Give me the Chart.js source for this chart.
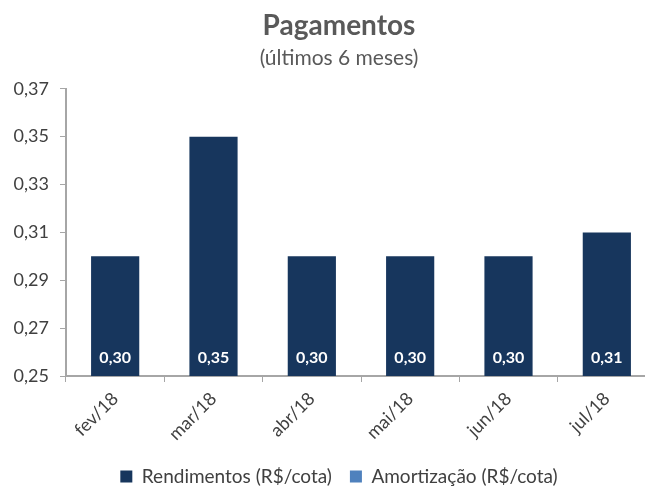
<!DOCTYPE html>
<html>
  <head>
    <meta charset="UTF-8" />
    <title>Pagamentos</title>
    <script src="https://cdn.jsdelivr.net/npm/chart.js"></script>
    <style>
      html, body {
        margin: 0;
        padding: 0;
        overflow: hidden;
        background: #fff;
        font-family: Lato, sans-serif;
      }
      #wrap {
        width: 680px;
        height: 486px;
      }
    </style>
  </head>
  <body>
    <div id="wrap"><canvas id="myChart"></canvas></div>
    <script>
      const months = ['fev/18', 'mar/18', 'abr/18', 'mai/18', 'jun/18', 'jul/18'];
      const rendimentos = [0.30, 0.35, 0.30, 0.30, 0.30, 0.31];
      const amortizacao = [null, null, null, null, null, null];
      const yTicks = { min: 0.25, max: 0.37, step: 0.02 };

      const fmt = v => v.toFixed(2).replace('.', ',');

      // white value labels sitting near the bottom of each bar
      const barLabels = {
        id: 'barLabels',
        afterDatasetsDraw(chart) {
          const ctx = chart.ctx;
          const meta = chart.getDatasetMeta(0);
          const bottom = chart.scales.y.bottom;
          ctx.save();
          ctx.fillStyle = '#ffffff';
          ctx.font = 'bold 16px Lato, sans-serif';
          ctx.textAlign = 'center';
          ctx.textBaseline = 'middle';
          meta.data.forEach((bar, i) => {
            ctx.fillText(fmt(rendimentos[i]), bar.x, bottom - 18);
          });
          ctx.restore();
        }
      };

      const ctx = document.getElementById('myChart').getContext('2d');
      new Chart(ctx, {
        type: 'bar',
        data: {
          labels: months,
          datasets: [
            {
              label: 'Rendimentos (R$/cota)',
              data: rendimentos,
              backgroundColor: '#17365d',
              barPercentage: 0.49,
              categoryPercentage: 1
            },
            {
              label: 'Amortização (R$/cota)',
              data: amortizacao,
              backgroundColor: '#4f81bd',
              barPercentage: 0.49,
              categoryPercentage: 1
            }
          ]
        },
        options: {
          responsive: true,
          maintainAspectRatio: false,
          animation: false,
          grouped: false,
          layout: { padding: { left: 0, right: 2, top: 0, bottom: -10 } },
          plugins: {
            title: {
              display: true,
              text: 'Pagamentos',
              color: '#595959',
              font: { family: 'Lato', size: 28, weight: 'bold' },
              padding: { top: 9, bottom: 0 }
            },
            subtitle: {
              display: true,
              text: '(últimos 6 meses)',
              color: '#595959',
              font: { family: 'Lato', size: 21 },
              padding: { top: 3, bottom: 18 }
            },
            legend: {
              position: 'bottom',
              labels: {
                color: '#404040',
                font: { family: 'Lato', size: 19 },
                boxWidth: 12,
                boxHeight: 12,
                padding: 18
              }
            },
            tooltip: { enabled: false }
          },
          scales: {
            y: {
              min: yTicks.min,
              max: yTicks.max,
              afterFit(scale) { scale.width = 66; },
              ticks: {
                stepSize: yTicks.step,
                color: '#404040',
                font: { family: 'Lato', size: 18 },
                padding: 11,
                callback: v => fmt(v)
              },
              grid: { drawOnChartArea: false, drawTicks: true, tickLength: 6, color: '#a6a6a6' },
              border: { color: '#a6a6a6', width: 2 }
            },
            // empty spacer on the right so the plot runs past the window edge
            yRight: {
              position: 'right',
              min: yTicks.min,
              max: yTicks.max,
              afterFit(scale) { scale.width = 22; },
              ticks: { display: false },
              grid: { display: false },
              border: { display: false }
            },
            x: {
              afterFit(scale) { scale.height = 73; },
              ticks: {
                color: '#404040',
                font: { family: 'Lato', size: 18 },
                maxRotation: 45,
                minRotation: 45,
                padding: 6
              },
              grid: { drawOnChartArea: false, drawTicks: true, tickLength: 6, offset: true, color: '#a6a6a6' },
              border: { color: '#a6a6a6', width: 2 }
            }
          }
        },
        plugins: [barLabels]
      });
    </script>
  </body>
</html>
